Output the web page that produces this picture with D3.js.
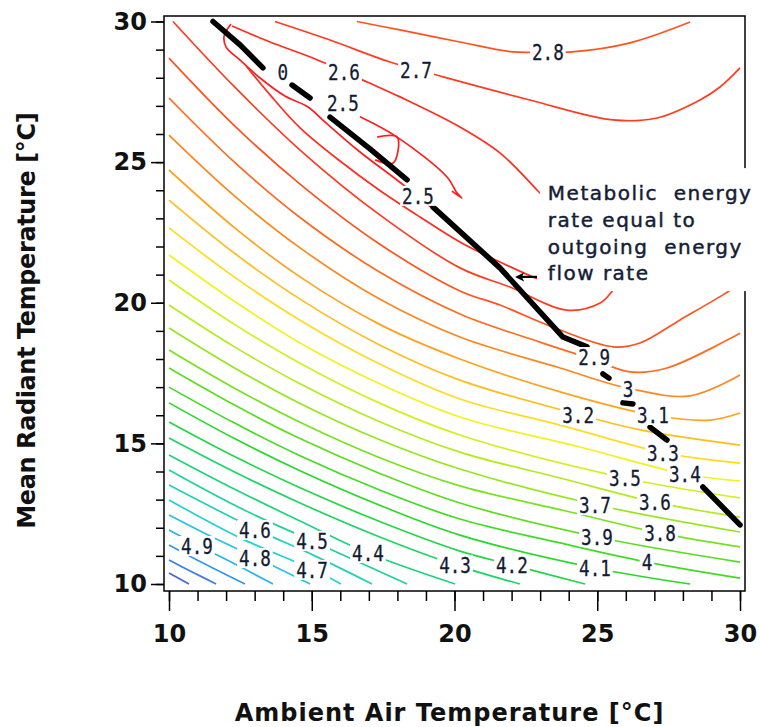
<!DOCTYPE html>
<html>
<head>
<meta charset="utf-8">
<script src="https://cdn.jsdelivr.net/npm/d3@7"></script>
<style>
  html, body { margin: 0; padding: 0; background: #fff; }
  svg { display: block; }
</style>
</head>
<body>
<div id="chart"></div>
<script>
// axis ticks
const xMajorTicks = [10, 15, 20, 25, 30];
const yMajorTicks = [10, 15, 20, 25, 30];

// contour level of each traced line (same order as contourLines)
const contourLevels = [2.5, 2.5, 2.5, 2.6, 2.6, 2.7, 2.7, 2.8, 2.8, 2.9, 3.0, 3.1, 3.2, 3.3, 3.4, 3.5,
  3.6, 3.7, 3.8, 3.9, 4.0, 4.1, 4.2, 4.3, 4.4, 4.5, 4.6, 4.7, 4.8, 4.9, 5.0, 5.1, 5.2];

// traced contour lines, [ambient air temp, mean radiant temp]
const contourLines = [
  [[12.17,29.91],[11.93,29.48],[12.0,29.09],[12.49,28.63],[13.19,27.99],[14.06,27.35],[14.87,26.96],[15.46,26.43],[16.69,25.36],[17.85,24.47],[18.79,23.72],[19.49,23.12]],
  [[16.69,26.61],[17.99,25.89],[19.74,24.47],[20.09,23.90],[20.26,23.72],[19.91,23.97]],
  [[17.29,25.89],[17.99,25.89],[17.85,24.97],[17.22,25.08]],
  [[12.70,28.42],[13.54,27.39],[14.59,26.22],[15.99,25.04],[17.36,24.01],[18.79,23.05],[20.19,22.16],[21.59,21.45],[22.89,20.85]],
  [[12.21,29.84],[13.54,29.27],[15.04,28.70],[16.94,27.85],[18.09,27.32],[20.19,26.25],[21.59,25.33],[22.89,24.01],[23.70,23.12]],
  [[10.14,30],[12.28,27.69],[14.59,25.43],[17.36,23.14],[20.19,21.24],[21.94,20.56],[23.94,19.74],[25.10,19.99],[25.62,20.52],[26.15,21.09]],
  [[13.71,30],[15.64,29.34],[17.74,28.56],[19.60,28.03],[22.64,27.21],[25.55,26.50],[27.09,26.57],[28.60,27.21],[29.30,27.67],[30,28.35]],
  [[10,28.70],[12.28,26.31],[14.59,24.22],[17.36,22.10],[20.19,20.42],[21.59,19.92],[23.35,19.17],[25.55,18.43],[26.50,18.57],[27.90,19.39],[29.40,20.28],[30.1,20.74]],
  [[16.58,30],[18.09,29.70],[20.19,29.27],[22.05,28.92],[23.27,28.92],[24.12,28.92],[26.15,29.24],[28.25,29.98]],
  [[10,27.28],[12.28,25.01],[14.59,23.03],[17.36,21.10],[20.19,19.60],[22.99,18.60],[24.89,17.97],[26.15,17.54],[27.44,17.68],[30,18.92]],
  [[10,25.96],[12.28,23.81],[14.59,21.95],[17.36,20.14],[20.19,18.78],[23.70,17.68],[26.04,16.97],[28.25,16.69],[30,17.43]],
  [[10,24.72],[12.28,22.68],[14.59,20.92],[17.36,19.24],[20.19,18.0],[23.70,16.83],[26.92,16.01],[28.95,15.83],[30,16.08]],
  [[10,23.65],[12.28,21.77],[14.59,20.13],[17.36,18.51],[20.19,17.25],[24.29,16.04],[26.50,15.48],[30,14.94]],
  [[10,22.66],[12.28,20.92],[14.59,19.38],[17.36,17.83],[20.19,16.58],[23.70,15.65],[27.34,14.66],[30,14.30]],
  [[10,21.70],[12.28,20.06],[14.59,18.57],[17.36,17.13],[20.19,15.94],[24.40,14.87],[28.07,13.91],[30,13.66]],
  [[10,20.81],[12.28,19.24],[14.59,17.85],[17.36,16.44],[20.19,15.30],[25.97,13.77],[30,13.06]],
  [[10,19.92],[12.28,18.44],[14.59,17.12],[17.36,15.78],[20.19,14.69],[23.70,13.77],[27.02,12.91],[30,12.38]],
  [[10,19.10],[12.28,17.69],[14.59,16.42],[17.36,15.14],[20.19,14.09],[24.99,12.81],[30,11.85]],
  [[10,18.32],[12.28,16.97],[14.59,15.75],[17.36,14.50],[20.19,13.49],[24.05,12.56],[27.20,11.81],[30,11.32]],
  [[10,17.68],[12.28,16.37],[14.59,15.17],[17.36,13.94],[20.19,12.88],[24.99,11.67],[30,10.78]],
  [[10,17.0],[12.28,15.73],[14.59,14.56],[17.36,13.35],[20.19,12.31],[23.70,11.46],[26.74,10.78],[30,10.21]],
  [[10,16.44],[12.28,15.18],[14.59,14.03],[17.36,12.81],[20.19,11.74],[24.92,10.57],[28.25,10]],
  [[10,15.76],[12.28,14.54],[14.59,13.42],[17.36,12.23],[20.19,11.17],[22.01,10.68],[24.57,10]],
  [[10,15.19],[12.28,13.99],[14.59,12.88],[17.36,11.68],[20.02,10.68],[22.29,10]],
  [[10,14.59],[12.28,13.38],[14.59,12.24],[16.97,11.10],[20.02,10]],
  [[10,14.05],[12.49,12.70],[15.01,11.53],[18.34,10]],
  [[10,13.52],[13.01,11.96],[15.11,11.0],[17.11,10]],
  [[10,12.99],[12.49,11.64],[15.01,10.53],[16.02,10]],
  [[10,12.45],[11.51,11.67],[13.01,10.96],[14.94,10]],
  [[10,11.92],[10.98,11.39],[12.31,10.71],[13.64,10]],
  [[10,11.39],[11.26,10.71],[12.66,10]],
  [[10,10.85],[10.81,10.43],[11.65,10]],
  [[10,10.39],[10.70,10]]
];

// thick black line (metabolic rate = outgoing energy flow), broken where labels sit
const balanceLine = [
  [[11.54,30],[12.49,29.17],[13.29,28.35]],
  [[14.31,27.74],[14.94,27.28]],
  [[15.64,26.60],[17.04,25.47],[18.34,24.37]],
  [[19.25,23.40],[21.59,21.24],[23.80,18.78],[24.64,18.43]],
  [[25.20,17.47],[25.41,17.32]],
  [[25.90,16.44],[26.25,16.40]],
  [[26.85,15.58],[27.44,15.12]],
  [[28.70,13.45],[30,12.10]]
];

// contour labels
const labelTexts = ["0", "2.6", "2.7", "2.8", "2.5", "2.5", "2.9", "3", "3.1", "3.2", "3.3", "3.4", "3.5",
  "3.6", "3.7", "3.8", "3.9", "4", "4.1", "4.2", "4.3", "4.4", "4.5", "4.6", "4.7", "4.8", "4.9"];
const labelX = [13.99, 16.13, 18.65, 23.27, 16.09, 18.72, 24.89, 26.08, 26.95, 24.33, 27.30, 28.07, 25.97,
  27.02, 24.92, 27.20, 24.99, 26.74, 24.92, 22.01, 20.02, 16.97, 15.01, 13.01, 15.01, 13.01, 10.98];
const labelY = [28.21, 28.21, 28.28, 28.92, 27.10, 23.80, 18.07, 16.93, 16.01, 16.01, 14.66, 13.91, 13.77,
  12.91, 12.81, 11.81, 11.67, 10.78, 10.57, 10.68, 10.68, 11.10, 11.53, 11.92, 10.50, 10.92, 11.35];

// annotation
const noteLines = ["Metabolic  energy", "rate equal to", "outgoing  energy", "flow rate"];
const notePosition = [23.27, 23.65];
const noteArrow = [[22.89, 20.92], [22.12, 20.92]];

const width = 760, height = 727;
const svg = d3.select("#chart").append("svg")
  .attr("width", width).attr("height", height)
  .attr("viewBox", `0 0 ${width} ${height}`);

const x = d3.scaleLinear().domain([10, 30]).range([169, 740]);
const y = d3.scaleLinear().domain([10, 30]).range([584, 21.5]);
const frame = { left: 164, right: 745, top: 16, bottom: 591 };

const levelColor = d3.scaleLinear()
  .domain([2.5, 2.7, 2.9, 3.0, 3.1, 3.2, 3.3, 3.4, 3.5, 3.7, 3.9, 4.1, 4.3, 4.5, 4.7, 4.9, 5.1, 5.2])
  .range(["#ff1e1e", "#ff3c1e", "#ff6a1e", "#ff861e", "#ffa21e", "#ffbe1e", "#ffdc1e", "#f2f21e", "#d2f01e",
    "#96e61e", "#5ade1e", "#28d82a", "#1ed464", "#1ed29c", "#1ed2d6", "#28b4f0", "#3c7ce6", "#4664dc"])
  .interpolate(d3.interpolateRgb);

svg.append("defs").append("clipPath").attr("id", "plot-clip")
  .append("rect")
  .attr("x", frame.left).attr("y", frame.top)
  .attr("width", frame.right - frame.left).attr("height", frame.bottom - frame.top);

const line = d3.line()
  .x(d => x(d[0]))
  .y(d => y(d[1]))
  .curve(d3.curveCatmullRom.alpha(0.5));

svg.append("g")
  .attr("clip-path", "url(#plot-clip)")
  .selectAll("path")
  .data(contourLines)
  .join("path")
  .attr("d", line)
  .attr("fill", "none")
  .attr("stroke", (d, i) => levelColor(contourLevels[i]))
  .attr("stroke-width", 1.7)
  .attr("stroke-linejoin", "round");

svg.append("g")
  .attr("clip-path", "url(#plot-clip)")
  .selectAll("path")
  .data(balanceLine)
  .join("path")
  .attr("d", d3.line().x(d => x(d[0])).y(d => y(d[1])))
  .attr("fill", "none")
  .attr("stroke", "#000")
  .attr("stroke-width", 5.5)
  .attr("stroke-linecap", "round")
  .attr("stroke-linejoin", "round");

// frame
svg.append("rect")
  .attr("x", frame.left).attr("y", frame.top)
  .attr("width", frame.right - frame.left).attr("height", frame.bottom - frame.top)
  .attr("fill", "none").attr("stroke", "#000").attr("stroke-width", 1.5);

// contour labels with white backing (narrow, tall digits)
const labelScaleX = 0.8;
const labelG = svg.append("g")
  .selectAll("g")
  .data(labelTexts)
  .join("g")
  .attr("transform", (d, i) => `translate(${x(labelX[i])},${y(labelY[i])})`);

labelG.append("rect").attr("fill", "#fff");
labelG.append("text")
  .text(d => d)
  .attr("text-anchor", "middle")
  .attr("dy", "0.36em")
  .attr("transform", `scale(${labelScaleX},1)`)
  .style("font-family", "'DejaVu Sans Mono', monospace")
  .style("font-size", "22px")
  .attr("fill", "#131b33")
  .attr("stroke", "#131b33")
  .attr("stroke-width", 0.3);

labelG.each(function () {
  const g = d3.select(this);
  const b = g.select("text").node().getBBox();
  g.select("rect")
    .attr("x", b.x * labelScaleX - 2).attr("y", -10)
    .attr("width", b.width * labelScaleX + 4).attr("height", 20);
});

// annotation box, text and arrow
const noteX = x(notePosition[0]);
const noteY = y(notePosition[1]);
svg.append("rect")
  .attr("x", noteX - 8).attr("y", noteY - 32)
  .attr("width", width - noteX + 8).attr("height", 123)
  .attr("fill", "#fff");

svg.append("g")
  .selectAll("text")
  .data(noteLines)
  .join("text")
  .attr("x", noteX)
  .attr("y", (d, i) => noteY + i * 26.8)
  .text(d => d)
  .style("white-space", "pre")
  .style("font-family", "'DejaVu Sans', sans-serif")
  .style("font-size", "20px")
  .style("letter-spacing", "1.5px")
  .attr("fill", "#141c36")
  .attr("stroke", "#141c36")
  .attr("stroke-width", 0.45);

const [a0, a1] = noteArrow;
svg.append("line")
  .attr("x1", x(a0[0])).attr("y1", y(a0[1]))
  .attr("x2", x(a1[0]) + 6).attr("y2", y(a1[1]))
  .attr("stroke", "#000").attr("stroke-width", 2.2);
svg.append("path")
  .attr("d", `M${x(a1[0])},${y(a1[1])} l9,-4.5 l-2,4.5 l2,4.5 z`)
  .attr("fill", "#000");

// axes
const tickFont = g => g.selectAll("text")
  .style("font-family", "'DejaVu Sans', sans-serif")
  .style("font-weight", "bold")
  .style("font-size", "24px")
  .attr("fill", "#111");

const styleTicks = g => {
  g.select(".domain").remove();
  g.selectAll("line").attr("stroke", "#000").attr("stroke-width", 1.5);
};

svg.append("g")
  .attr("transform", `translate(${frame.left},0)`)
  .call(d3.axisLeft(y).tickValues(y.ticks(20)).tickSize(8).tickFormat(""))
  .call(styleTicks);

svg.append("g")
  .attr("transform", `translate(${frame.left},0)`)
  .call(d3.axisLeft(y).tickValues(yMajorTicks).tickSize(13).tickPadding(4).tickFormat(d3.format("d")))
  .call(styleTicks)
  .call(tickFont);

svg.append("g")
  .attr("transform", `translate(0,${frame.bottom})`)
  .call(d3.axisBottom(x).tickValues(x.ticks(20)).tickSize(10).tickFormat(""))
  .call(styleTicks);

svg.append("g")
  .attr("transform", `translate(0,${frame.bottom})`)
  .call(d3.axisBottom(x).tickValues(xMajorTicks).tickSize(20).tickPadding(14).tickFormat(d3.format("d")))
  .call(styleTicks)
  .call(tickFont);

// axis titles
svg.append("text")
  .attr("x", (x(10) + x(30)) / 2 - 5)
  .attr("y", 721)
  .attr("text-anchor", "middle")
  .text("Ambient Air Temperature [°C]")
  .style("font-family", "'DejaVu Sans', sans-serif")
  .style("font-weight", "bold")
  .style("font-size", "24px")
  .style("letter-spacing", "1px")
  .attr("fill", "#111");

svg.append("text")
  .attr("transform", `translate(35,${(y(10) + y(30)) / 2 + 18}) rotate(-90)`)
  .attr("text-anchor", "middle")
  .text("Mean Radiant Temperature [°C]")
  .style("font-family", "'DejaVu Sans', sans-serif")
  .style("font-weight", "bold")
  .style("font-size", "24px")
  .style("letter-spacing", "-0.4px")
  .attr("fill", "#111");
</script>
</body>
</html>
